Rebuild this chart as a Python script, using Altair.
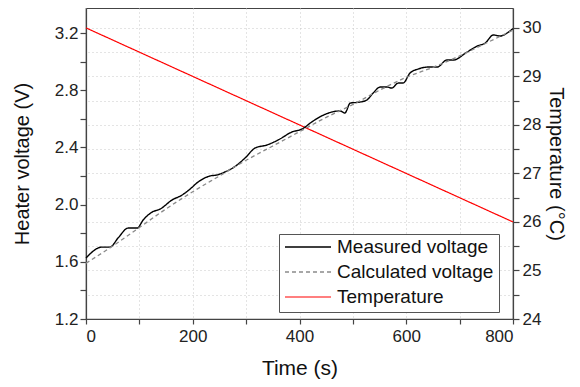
import altair as alt
import pandas as pd

# Measured voltage (V) vs time (s)
meas_t = [0, 30, 45, 60, 79, 96, 107, 124, 139, 161, 180, 195, 210, 232, 245, 260, 275,
          298, 317, 339, 360, 386, 405, 423, 438, 461, 476, 485, 495, 513, 526, 538, 551,
          564, 573, 585, 594, 607, 622, 641, 658, 676, 688, 714, 733, 748, 763, 776, 789, 800]
meas_v = [1.627, 1.703, 1.703, 1.766, 1.836, 1.836, 1.892, 1.948, 1.969, 2.032, 2.067, 2.109,
          2.158, 2.200, 2.207, 2.228, 2.256, 2.326, 2.396, 2.417, 2.452, 2.508, 2.529, 2.578,
          2.613, 2.648, 2.655, 2.641, 2.710, 2.717, 2.731, 2.780, 2.822, 2.822, 2.815, 2.850,
          2.850, 2.920, 2.948, 2.962, 2.962, 3.011, 3.011, 3.067, 3.109, 3.130, 3.186, 3.179,
          3.200, 3.232]

# Calculated voltage (V)
calc_t = [0, 50, 100, 150, 200, 250, 300, 350, 400, 450, 500, 550, 600, 650, 700, 750, 800]
calc_v = [1.59, 1.71, 1.84, 1.97, 2.09, 2.20, 2.31, 2.41, 2.51, 2.61, 2.70, 2.80, 2.89,
          2.96, 3.04, 3.13, 3.22]

# Temperature (°C)
temp_t = [0, 800]
temp_c = [30, 26]

series = ["Measured voltage", "Calculated voltage", "Temperature"]
colors = ["#000000", "#8a8a8a", "#ff0000"]
dashes = [[1, 0], [4, 3], [1, 0]]
widths = [1.4, 1.2, 2.0]

volt = pd.concat([
    pd.DataFrame({"t": meas_t, "v": meas_v, "series": series[0]}),
    pd.DataFrame({"t": calc_t, "v": calc_v, "series": series[1]}),
])
temp = pd.DataFrame({"t": temp_t, "c": temp_c, "series": series[2]})

FONT = "Liberation Sans"

legend = alt.Legend(
    title=None, orient="none", legendX=193, legendY=226,
    symbolType="stroke", symbolSize=2116, clipHeight=16,
    labelFontSize=19, labelFont=FONT, labelColor="#111", labelOffset=5,
    rowPadding=6, padding=5, strokeColor="#555", fillColor="white",
    symbolStrokeWidth=1.5,
)

color = alt.Color("series:N", scale=alt.Scale(domain=series, range=colors), legend=legend, title=None)
dash = alt.StrokeDash("series:N", scale=alt.Scale(domain=series, range=dashes), legend=legend, title=None)
sw = alt.StrokeWidth("series:N", scale=alt.Scale(domain=series, range=widths), legend=legend, title=None)

x_enc = alt.X("t:Q", scale=alt.Scale(domain=[0, 800], nice=False),
              axis=alt.Axis(title="Time (s)", values=list(range(0, 801, 100)),
                            labelExpr="datum.value % 200 == 0 ? datum.label : ''",
                            grid=True, gridDash=[1, 3], gridColor="#c8c8c8",
                            tickSize=5, labelPadding=4, titlePadding=13,
                            titleFontSize=21))

vlayer = alt.Chart(volt).mark_line(interpolate="monotone").encode(
    x=x_enc,
    y=alt.Y("v:Q", scale=alt.Scale(domain=[1.2, 3.375], nice=False, zero=False),
            axis=alt.Axis(title="Heater voltage (V)", orient="left",
                          values=[1.2, 1.4, 1.6, 1.8, 2.0, 2.2, 2.4, 2.6, 2.8, 3.0, 3.2],
                          labelExpr="round(datum.value*10) % 4 == 0 ? format(datum.value, '.1f') : ''",
                          grid=False, tickSize=6, labelPadding=2, titlePadding=22,
                          titleFontSize=20)),
    color=color, strokeDash=dash, strokeWidth=sw,
    order=alt.Order("t:Q"),
)

tlayer = alt.Chart(temp).mark_line().encode(
    x=x_enc,
    y=alt.Y("c:Q", scale=alt.Scale(domain=[24, 30.41], nice=False, zero=False),
            axis=alt.Axis(title="Temperature (°C)", orient="right",
                          values=[24, 24.5, 25, 25.5, 26, 26.5, 27, 27.5, 28, 28.5, 29, 29.5, 30],
                          labelExpr="datum.value % 1 == 0 ? format(datum.value, 'd') : ''",
                          grid=True, gridDash=[1, 3], gridColor="#c8c8c8",
                          tickSize=6, labelPadding=3, titlePadding=5,
                          titleFontSize=20)),
    color=color, strokeDash=dash, strokeWidth=sw,
)

chart = alt.layer(tlayer, vlayer).resolve_scale(y="independent").properties(
    width=427, height=311,
    autosize=alt.AutoSizeParams(type="none"),
    padding={"left": 78, "top": 0, "right": 59, "bottom": 60},
).configure_view(
    stroke="#444", strokeWidth=1.2
).configure_axis(
    labelFont=FONT, titleFont=FONT, labelFontSize=17,
    labelColor="#222", titleColor="#111", titleFontWeight="normal",
    domainColor="#444", domainWidth=1.2, tickColor="#444", tickWidth=1.2,
)

chart.save("out.html", embed_options={"renderer": "svg", "actions": False})
